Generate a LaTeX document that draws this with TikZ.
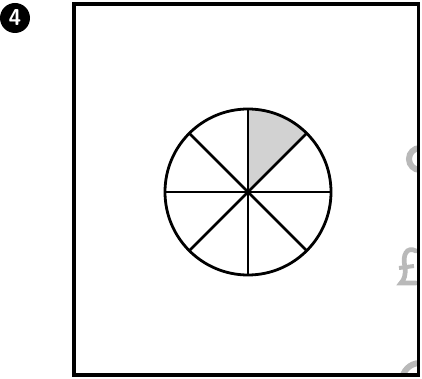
\documentclass[tikz,border=0pt]{standalone}
\usepackage{tikz}
\usetikzlibrary{positioning}

\begin{document}
\begin{tikzpicture}[x=0.75pt, y=0.75pt]

  % Page area
  \useasboundingbox (0,0) rectangle (422,379);

  % Number badge
  \fill[black] (15,361) circle (15);
  \node[white, font=\sffamily\bfseries\LARGE] (badge) at (15,361) {4};

  % Faint marks bleeding in at the right edge
  \begin{scope}
    \clip (74,4) rectangle (418,375);
    \draw[gray!55, line width=4.5pt] (420,220) ++(90:11) arc[start angle=90, end angle=270, radius=11];
    \draw[gray!55, line width=3.5pt, line cap=round]
      (416,128) .. controls (407,133) and (402,124) .. (405,112)
      .. controls (406,104) and (404,99) .. (401,96) -- (416,96);
    \draw[gray!55, line width=3pt] (399,111) -- (414,113);
    \draw[gray!55, line width=4.5pt] (420,-2) ++(0:18) arc[start angle=0, end angle=180, radius=18];
  \end{scope}

  % Frame
  \draw[line width=2.6pt] (74,4) rectangle (418.5,375);

  % Shaded eighth
  \coordinate (center) at (248,187);
  \fill[gray!35] (center) -- ++(90:83) arc[start angle=90, end angle=45, radius=83] -- cycle;

  % Spokes
  \foreach \a in {0,45,90,135} {
    \draw[line width=2.1pt] (center) ++(\a:83) -- ++(\a+180:166);
  }

  % Outline of the circle
  \draw[line width=2.1pt] (center) circle (83);

\end{tikzpicture}
\end{document}
